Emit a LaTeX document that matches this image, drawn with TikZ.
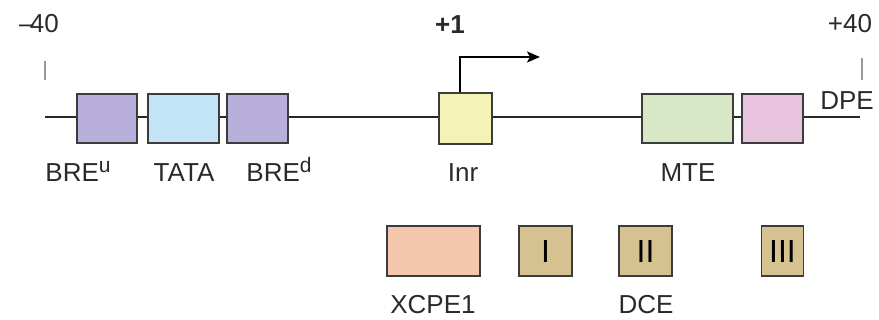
\documentclass[tikz,border=0pt]{standalone}
\usepackage{fontspec}
\setmainfont{Liberation Sans}
\usetikzlibrary{arrows.meta}
\definecolor{bre}{HTML}{B8B0DA}
\definecolor{tata}{HTML}{C2E4F6}
\definecolor{inr}{HTML}{F5F2B8}
\definecolor{mte}{HTML}{D8E7C6}
\definecolor{dpe}{HTML}{E9C4DE}
\definecolor{xcpe}{HTML}{F3C7AC}
\definecolor{dce}{HTML}{D6C291}
\definecolor{edge}{HTML}{3C3C3C}
\definecolor{tick}{HTML}{9A9A9A}
\definecolor{txt}{HTML}{2A2A2A}
\newcommand{\supr}[1]{\raisebox{0.36em}{\fontsize{21}{24}\selectfont #1}}
\tikzset{
  elem/.style={draw=edge, line width=1.3pt, fill=#1, inner sep=0pt, rectangle},
  lab/.style={text=txt, font=\fontsize{26}{30}\selectfont, inner sep=0pt, anchor=base},
  roman/.style={text=black, font=\fontsize{32}{34}\selectfont, inner sep=0pt},
  tickline/.style={draw=tick, line width=1.4pt},
}
\begin{document}
\begin{tikzpicture}[x=1pt, y=-1pt]
\useasboundingbox (0,0) rectangle (879,320);
% main DNA line
\coordinate (L) at (45,117);
\coordinate (R) at (860,117);
\draw[line width=2.4pt, black!85] (L) -- (R);
% ticks
\coordinate (t1a) at (45,61); \coordinate (t1b) at (45,80);
\coordinate (t2a) at (862,58); \coordinate (t2b) at (862,80);
\draw[tickline] (t1a) -- (t1b);
\draw[tickline] (t2a) -- (t2b);
% position labels
\node[lab, anchor=base east] (m40) at (59,33) {–\kern-0.14em40};
\node[lab, font=\fontsize{26}{30}\selectfont\bfseries] (p1) at (450,34) {+1};
\node[lab] (p40) at (850,33) {+40};
% elements on the line
\node[elem=bre, minimum width=60pt, minimum height=49pt] (breu) at (107,118.5) {};
\node[elem=tata, minimum width=71pt, minimum height=49pt] (tata) at (183.5,118.5) {};
\node[elem=bre, minimum width=61pt, minimum height=49pt] (bred) at (257.5,118.5) {};
\node[elem=inr, minimum width=53pt, minimum height=51pt] (inr) at (465.5,118.5) {};
\node[elem=mte, minimum width=91pt, minimum height=49pt] (mte) at (687.5,118.5) {};
\node[elem=dpe, minimum width=61pt, minimum height=49pt] (dpe) at (772.5,118.5) {};
% transcription start arrow
\coordinate (tip) at (540,57);
\draw[line width=2pt, black, -{Stealth[length=13pt, width=11pt, inset=3pt]}]
  ([xshift=-5.5pt]inr.north) |- (tip);
% labels under elements
\node[lab] (lbreu) at (78,182) {BRE\supr{u}};
\node[lab] (ltata) at (184,182) {TATA};
\node[lab] (lbred) at (279,182) {BRE\supr{d}};
\node[lab] (linr) at (463,182) {Inr};
\node[lab] (lmte) at (688,182) {MTE};
\node[lab] (ldpe) at (847,110) {DPE};
% lower row
\node[elem=xcpe, minimum width=93pt, minimum height=50pt] (xcpe) at (433.5,251) {};
\node[elem=dce, minimum width=53pt, minimum height=50pt] (d1) at (545.5,251) {};
\node[elem=dce, minimum width=53pt, minimum height=50pt] (d2) at (645.5,251) {};
\node[elem=dce, minimum width=42pt, minimum height=50pt] (d3) at (782.5,251) {};
\node[roman] at (d1.center) {I};
\node[roman] at (d2.center) {II};
\node[roman] at (d3.center) {III};
\node[lab] (lxcpe) at (433,314) {XCPE1};
\node[lab] (ldce) at (646,314) {DCE};
\end{tikzpicture}
\end{document}
